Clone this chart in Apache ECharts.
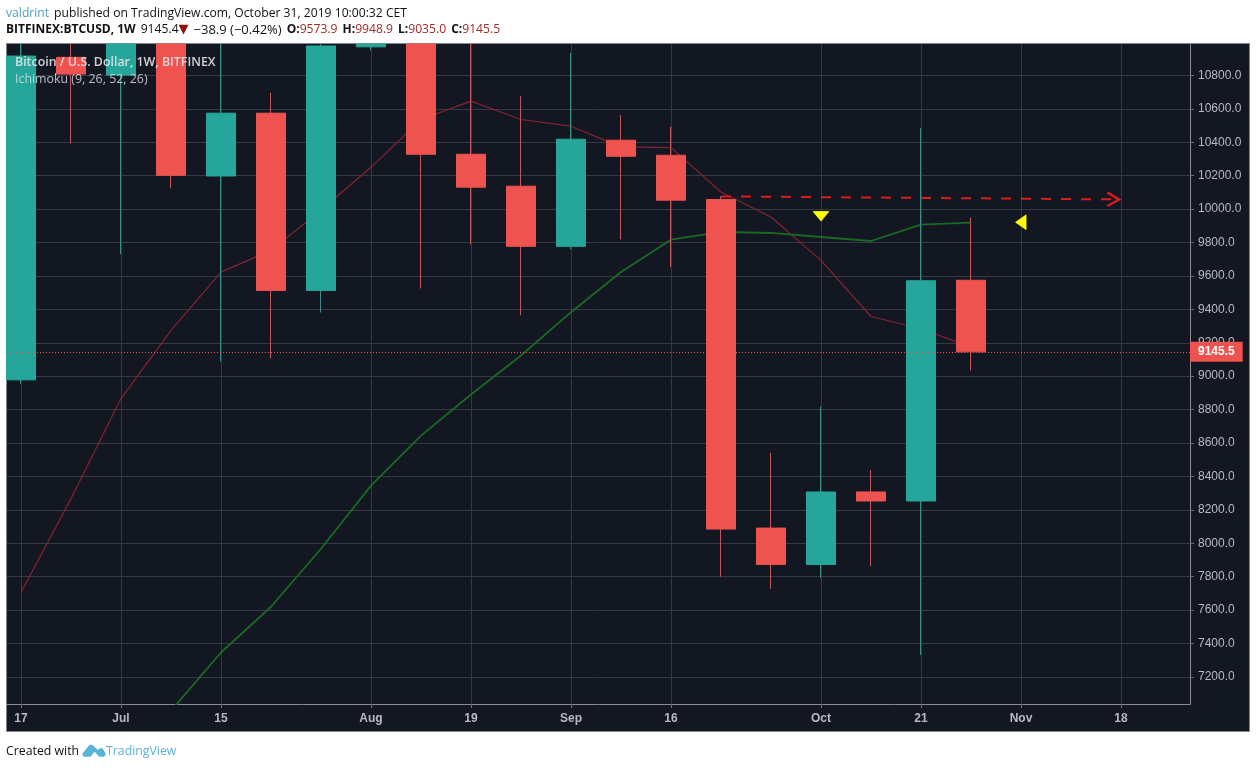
<!DOCTYPE html>
<html>
<head>
<meta charset="utf-8">
<title>BTCUSD 1W</title>
<script src="https://cdn.jsdelivr.net/npm/echarts@6/dist/echarts.min.js"></script>
<style>
html, body { margin: 0; padding: 0; background: #fff; overflow: hidden; }
#frame { position: absolute; left: 6px; top: 43px; width: 1242px; height: 687px; background: #131722; border: 1px solid #85878c; }
#chart { position: absolute; left: 0; top: 0; width: 1256px; height: 768px; }
</style>
</head>
<body>
<div id="frame"></div>
<div id="chart"></div>
<script>
// weekly candles, left to right (values above the top edge are estimates)
var opens  = [8978, 10908, 10802, 11300, 10198, 10574, 9513, 10971, 11560, 10328, 10137, 9777, 10412, 10322, 10057, 8091, 7873, 8307, 8253, 9573.9];
var closes = [10916, 10808, 11300, 10202, 10574, 9513, 10976, 11560, 10328, 10131, 9777, 10418, 10316, 10053, 8085, 7873, 8307, 8253, 9571, 9145.5];
var lows   = [8956, 10394, 9729, 10125, 9088, 9106, 9381, 10950, 9525, 9789, 9364, 9759, 9819, 9653, 7799, 7727, 7792, 7863, 7332, 9035];
var highs  = [11200, 13800, 12000, 13200, 11100, 10696, 11100, 12300, 11600, 11000, 10676, 10935, 10562, 10492, 10077, 8542, 8818, 8439, 10484, 9948.9];

var redLine   = [7705, 8267, 8866, 9274, 9623, 9753, 9993, 10250, 10536, 10646, 10536, 10496, 10372, 10368, 10102, 9953, 9693, 9357, 9284, 9174];
var greenLine = [null, null, null, 6998, 7346, 7620, 7967, 8345, 8644, 8890, 9124, 9383, 9623, 9817, 9863, 9857, 9833, 9809, 9907, 9919];

var xTickIndex  = [0, 2, 4, 7, 9, 11, 13, 16, 18, 20, 22];
var xTickLabels = ['17', 'Jul', '15', 'Aug', '19', 'Sep', '16', 'Oct', '21', 'Nov', '18'];
var yTicks = [7200, 7400, 7600, 7800, 8000, 8200, 8400, 8600, 8800, 9000, 9200, 9400, 9600, 9800, 10000, 10200, 10400, 10600, 10800];

var lastPrice = 9145.5;
var trendLine = [[14, 10076], [21.86, 10058]];
var downMarker = [16, 9958];
var leftMarker = [20, 9921];

var yMin = 7038, yMax = 10988;
var upColor = '#26a69a', downColor = '#ef5350';
var wickUp = '#35908b', wickDown = '#c2585c';
var gridColor = '#353944', axisText = '#b7bac1';

// candlestick only skips boxes fully outside the grid, so cut the tall ones at the top edge
function cut(v) { return Math.min(v, yMax); }

var wickData = opens.map(function (o, i) { return [i, cut(o), cut(closes[i]), lows[i], cut(highs[i])]; });
var bodyData = opens.map(function (o, i) {
    var a = cut(o), b = cut(closes[i]);
    return [i, a, b, Math.min(a, b), Math.max(a, b)];
});
var redData = redLine.map(function (v, i) { return [i, v]; });
var greenData = greenLine.map(function (v, i) { return [i, v]; });

var headFont = '"Open Sans"';
var headSize = 12.15;
var chart = echarts.init(document.getElementById('chart'), null, { renderer: 'canvas' });
chart.setOption({
    animation: false,
    backgroundColor: 'transparent',
    grid: { left: 7, right: 66, top: 44, bottom: 64 },
    title: [
        {
            left: 6, top: 5, padding: 0,
            text: '{a|valdrint} {b|published on TradingView.com, October 31, 2019 10:00:32 CET}',
            textStyle: { fontWeight: 'normal', rich: {
                a: { fontFamily: headFont, fontSize: headSize, fontWeight: 'normal', color: '#4f9fc2' },
                b: { fontFamily: headFont, fontSize: headSize, fontWeight: 'normal', color: '#111' }
            } }
        },
        {
            left: 6, top: 21, padding: 0,
            text: '{k|BITFINEX:BTCUSD, 1W} {b|9145.4}{d|▼} {c|−38.9 (−0.42%)} {k|O:}{r|9573.9} {k|H:}{r|9948.9} {k|L:}{r|9035.0} {k|C:}{r|9145.5}',
            textStyle: { fontWeight: 'normal', rich: {
                k: { fontFamily: headFont, fontSize: 12, fontWeight: 'bold', color: '#111' },
                b: { fontFamily: headFont, fontSize: headSize, fontWeight: 'normal', color: '#111' },
                c: { fontFamily: headFont, fontSize: 13, fontWeight: 'normal', color: '#111' },
                d: { fontFamily: 'DejaVu Sans', fontSize: 13, fontWeight: 'normal', color: '#8b0f0f' },
                r: { fontFamily: headFont, fontSize: headSize, fontWeight: 'normal', color: '#a32a2a' }
            } }
        },
        {
            left: 15, top: 56, padding: 0,
            text: 'Bitcoin / U.S. Dollar, 1W, BITFINEX',
            textStyle: { fontFamily: headFont, fontSize: 12.4, fontWeight: 600, color: 'rgba(226,229,234,0.9)' }
        },
        {
            left: 15, top: 73, padding: 0,
            text: 'Ichimoku (9, 26, 52, 26)',
            textStyle: { fontFamily: headFont, fontSize: 12.4, fontWeight: 400, color: 'rgba(215,218,224,0.85)' }
        },
        {
            left: 6, top: 745, padding: 0,
            text: 'Created with',
            textStyle: { fontFamily: headFont, fontSize: 12.3, fontWeight: 400, color: '#111' }
        },
        {
            left: 106, top: 745, padding: 0,
            text: 'TradingView',
            textStyle: { fontFamily: headFont, fontSize: 12.3, fontWeight: 400, color: '#5ab4d8' }
        }
    ],
    graphic: [{
        type: 'polygon',
        silent: true,
        shape: { points: [[83, 754], [90, 745.5], [92, 745.5], [98, 751], [100, 749], [102, 749], [105, 754], [104, 756], [99.5, 756], [94.5, 750.5], [90, 756], [84, 756]] },
        style: { fill: '#5ab4d8', stroke: '#5ab4d8', lineWidth: 1.5, lineJoin: 'round' }
    }],
    xAxis: {
        type: 'value',
        min: -0.28,
        max: 23.38,
        axisLine: { show: true, onZero: false, lineStyle: { color: '#8a8d94', width: 1 } },
        axisTick: { show: true, length: 4, customValues: xTickIndex, lineStyle: { color: '#6a6d75' } },
        axisLabel: {
            customValues: xTickIndex,
            color: axisText,
            fontFamily: 'Liberation Sans',
            fontWeight: 'bold',
            fontSize: 12,
            margin: 9,
            formatter: function (v) { return xTickLabels[xTickIndex.indexOf(v)]; }
        },
        splitLine: { show: true, lineStyle: { color: gridColor, width: 1 } }
    },
    yAxis: {
        type: 'value',
        position: 'right',
        min: yMin,
        max: yMax,
        axisLine: { show: true, onZero: false, lineStyle: { color: '#8a8d94', width: 1 } },
        axisTick: { show: true, length: 4, customValues: yTicks, lineStyle: { color: '#6a6d75' } },
        axisLabel: {
            customValues: yTicks,
            color: axisText,
            fontFamily: 'Liberation Sans',
            fontSize: 12,
            margin: 8,
            formatter: function (v) { return v.toFixed(1); }
        },
        splitLine: { show: true, lineStyle: { color: gridColor, width: 1 } }
    },
    series: [
        {
            name: 'Wicks',
            type: 'candlestick',
            data: wickData,
            encode: { x: 0, y: [1, 2, 3, 4] },
            barWidth: 1,
            itemStyle: { color: wickUp, color0: wickDown, borderColor: wickUp, borderColor0: wickDown, borderWidth: 1 },
            silent: true,
            z: 2
        },
        {
            name: 'Bodies',
            type: 'candlestick',
            data: bodyData,
            encode: { x: 0, y: [1, 2, 3, 4] },
            barWidth: 30,
            itemStyle: { color: upColor, color0: downColor, borderColor: upColor, borderColor0: downColor, borderWidth: 1 },
            silent: true,
            z: 3
        },
        {
            name: 'Lead 1',
            type: 'line',
            data: redData,
            symbol: 'none',
            lineStyle: { color: '#842431', width: 1.2 },
            silent: true,
            z: 2
        },
        {
            name: 'Lead 2',
            type: 'line',
            data: greenData,
            symbol: 'none',
            lineStyle: { color: '#1a6a24', width: 1.8 },
            silent: true,
            z: 2,
            markLine: {
                silent: true,
                symbol: 'none',
                data: [{ yAxis: lastPrice }],
                lineStyle: { type: [1, 2], color: '#ef5350', width: 1.2, opacity: 1 },
                label: {
                    show: true,
                    position: 'end',
                    distance: 0,
                    formatter: function () { return lastPrice.toFixed(1); },
                    color: '#fff',
                    fontFamily: 'Liberation Sans',
                    fontSize: 12,
                    fontWeight: 'bold',
                    backgroundColor: downColor,
                    padding: [4, 8, 4, 8]
                },
                z: 6
            }
        },
        {
            name: 'Marks',
            type: 'scatter',
            data: [
                { value: downMarker, symbolRotate: 180, symbolSize: [15, 9] },
                { value: leftMarker, symbolRotate: 90, symbolSize: [14, 10] }
            ],
            symbol: 'triangle',
            itemStyle: { color: '#ffff00', borderColor: '#ffff00', borderWidth: 1, opacity: 1 },
            silent: true,
            z: 5,
            markLine: {
                silent: true,
                symbol: ['none', 'path://M10,0 L20,14 L18,16 L10,5 L2,16 L0,14 Z'],
                symbolSize: 15,
                label: { show: false },
                data: [[{ coord: trendLine[0] }, { coord: trendLine[1] }]],
                lineStyle: { type: [10, 10], color: '#e01b1b', width: 2, opacity: 1 },
                z: 5
            }
        }
    ]
});
</script>
</body>
</html>
